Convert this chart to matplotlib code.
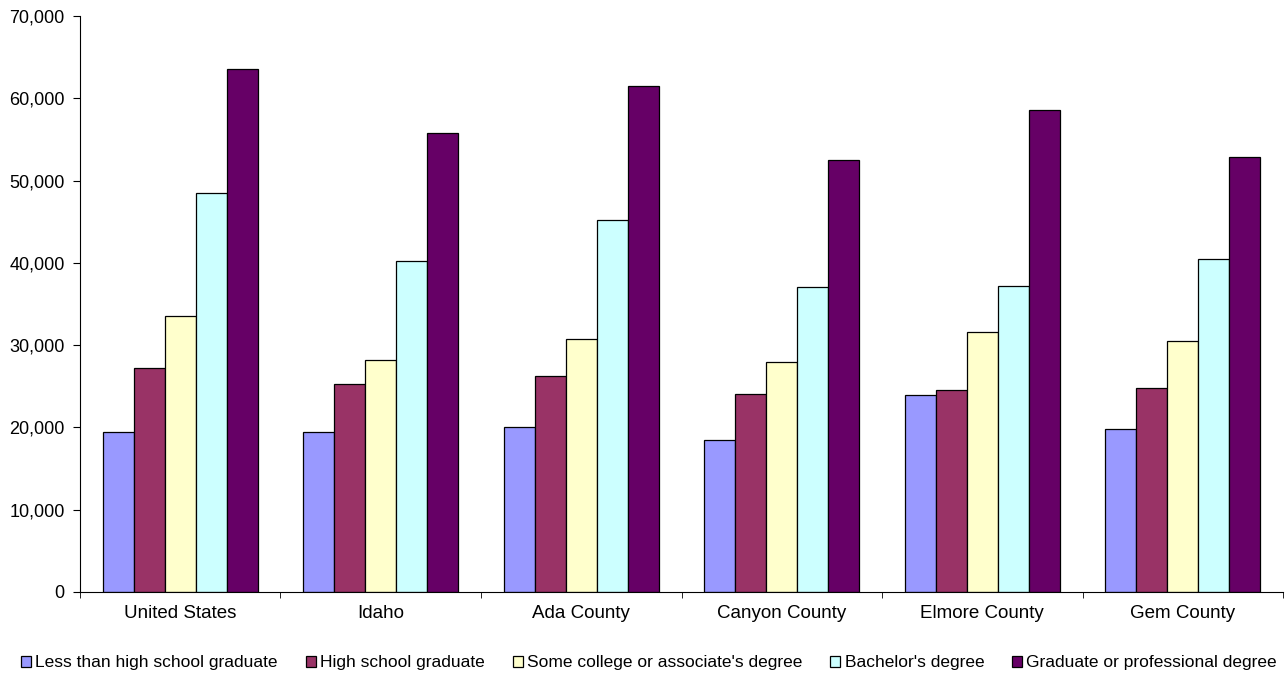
import numpy as np
import matplotlib.pyplot as plt
from matplotlib.ticker import FuncFormatter

plt.rcParams['font.family'] = ['Liberation Sans', 'DejaVu Sans']

# date
areas = ['United States', 'Idaho', 'Ada County', 'Canyon County', 'Elmore County', 'Gem County']
series = ['Less than high school graduate', 'High school graduate',
          "Some college or associate's degree", "Bachelor's degree",
          'Graduate or professional degree']
less_hs = [19400, 19400, 20100, 18500, 23900, 19800]
hs_grad = [27200, 25300, 26300, 24100, 24500, 24800]
some_college = [33500, 28200, 30700, 28000, 31600, 30500]
bachelor = [48500, 40200, 45200, 37100, 37200, 40500]
graduate = [63600, 55800, 61500, 52500, 58600, 52900]
colors = ['#9999FF', '#993366', '#FFFFCC', '#CCFFFF', '#660066']

values = [less_hs, hs_grad, some_college, bachelor, graduate]

fig = plt.figure(figsize=(12.86, 6.73), dpi=100)
ax = fig.add_axes([0.0622, 0.1204, 0.9355, 0.8556])

x = np.arange(len(areas))
w = 0.155
for i, (vals, c, name) in enumerate(zip(values, colors, series)):
    ax.bar(x + (i - 2) * w, vals, width=w, color=c, edgecolor='black',
           linewidth=0.9, label=name)

ax.set_xlim(-0.5, len(areas) - 0.5)
ax.set_ylim(0, 70000)
ax.set_yticks(np.arange(0, 70001, 10000))
ax.yaxis.set_major_formatter(FuncFormatter(lambda v, p: f'{int(v):,}'))
ax.set_xticks(x)
ax.set_xticklabels(areas)
ax.set_xticks(np.arange(-0.5, len(areas), 1), minor=True)
ax.tick_params(axis='x', which='major', length=0, labelsize=13.5, pad=9.5)
ax.tick_params(axis='x', which='minor', length=4.5, direction='out')
ax.tick_params(axis='y', length=5, labelsize=13, pad=6)

for s in ['top', 'right']:
    ax.spines[s].set_visible(False)

fig.legend(loc='center', bbox_to_anchor=(0.5047, 0.015), ncol=5, frameon=False,
           fontsize=12.5, handlelength=0.58, handleheight=0.58, handletextpad=0.25,
           columnspacing=1.6, borderpad=0)

plt.savefig('out.png', dpi=100)
